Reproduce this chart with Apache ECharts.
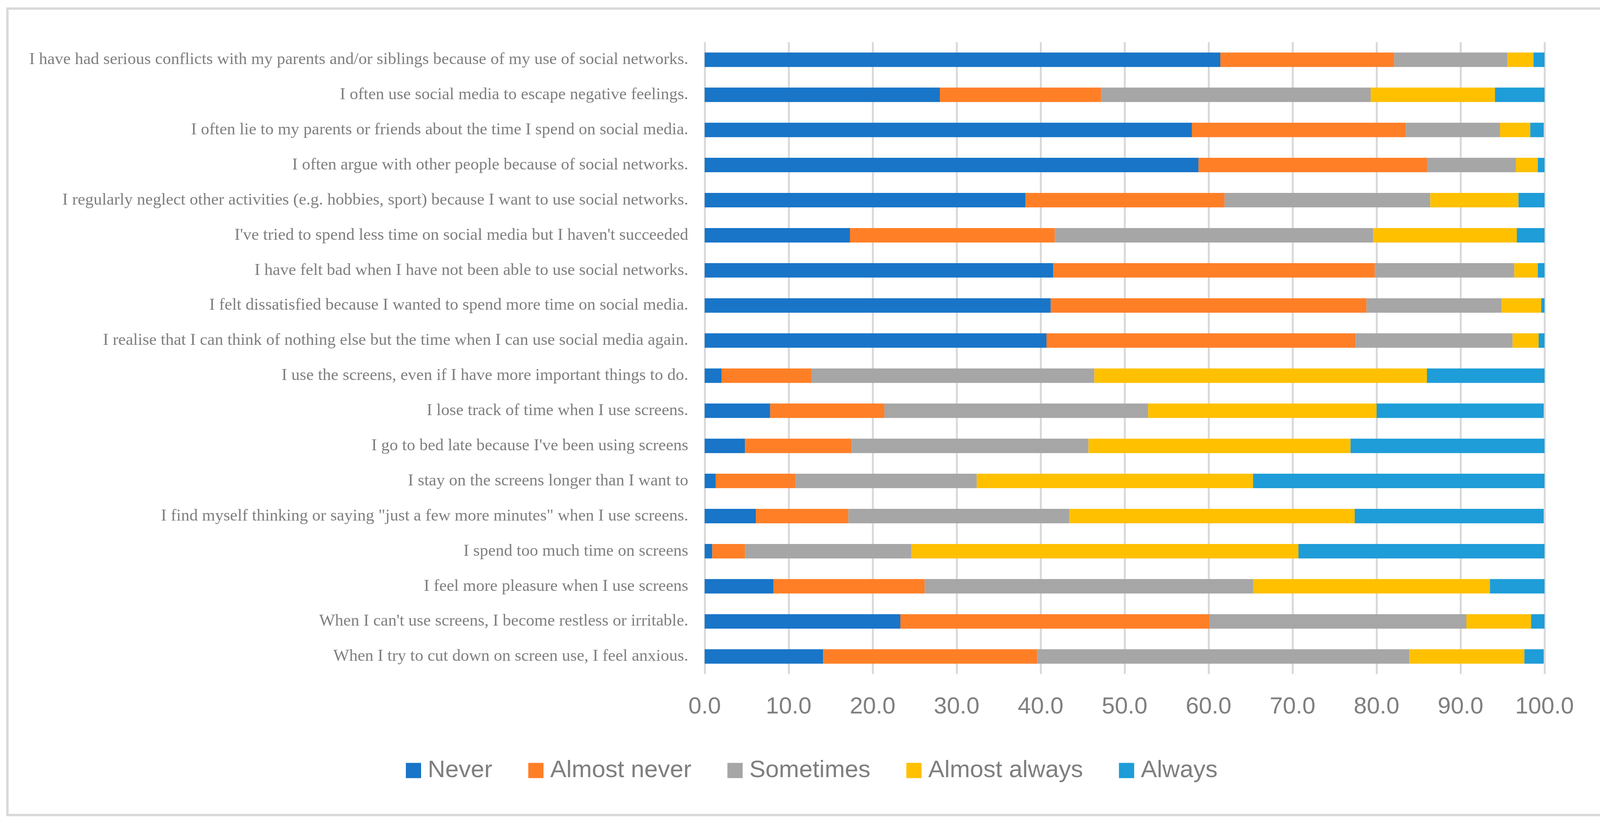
<!DOCTYPE html>
<html>
<head>
<meta charset="utf-8">
<script src="https://cdn.jsdelivr.net/npm/echarts@6/dist/echarts.min.js"></script>
<style>
html,body{margin:0;padding:0;background:#fff;}
#chart{width:4153px;height:2110px;}
</style>
</head>
<body>
<div id="chart"></div>
<script>
var categories = [
  "I have had serious conflicts with my parents and/or siblings because of my use of social networks.",
  "I often use social media to escape negative feelings.",
  "I often lie to my parents or friends about the time I spend on social media.",
  "I often argue with other people because of social networks.",
  "I regularly neglect other activities (e.g. hobbies, sport) because I want to use social networks.",
  "I've tried to spend less time on social media but I haven't succeeded",
  "I have felt bad when I have not been able to use social networks.",
  "I felt dissatisfied because I wanted to spend more time on social media.",
  "I realise that I can think of nothing else but the time when I can use social media again.",
  "I use the screens, even if I have more important things to do.",
  "I lose track of time when I use screens.",
  "I go to bed late because I've been using screens",
  "I stay on the screens longer than I want to",
  "I find myself thinking or saying \"just a few more minutes\" when I use screens.",
  "I spend too much time on screens",
  "I feel more pleasure when I use screens",
  "When I can't use screens, I become restless or irritable.",
  "When I try to cut down on screen use, I feel anxious."
];
var seriesNames = ["Never", "Almost never", "Sometimes", "Almost always", "Always"];
var never        = [61.4, 28.0, 58.0, 58.8, 38.2, 17.3, 41.5, 41.2, 40.7,  2.0,  7.8,  4.8,  1.3,  6.1,  0.9,  8.2, 23.3, 14.1];
var almostNever  = [20.7, 19.2, 25.5, 27.2, 23.7, 24.4, 38.3, 37.6, 36.8, 10.7, 13.6, 12.7,  9.5, 11.0,  3.9, 18.0, 36.8, 25.5];
var sometimes    = [13.5, 32.1, 11.2, 10.6, 24.5, 37.9, 16.6, 16.1, 18.7, 33.7, 31.4, 28.2, 21.6, 26.3, 19.8, 39.1, 30.6, 44.3];
var almostAlways = [ 3.1, 14.8,  3.6,  2.6, 10.5, 17.1,  2.8,  4.7,  3.1, 39.6, 27.2, 31.2, 32.9, 34.0, 46.1, 28.2,  7.7, 13.7];
var always       = [ 1.3,  5.9,  1.6,  0.8,  3.1,  3.3,  0.8,  0.5,  0.7, 14.0, 19.9, 23.1, 34.7, 22.5, 29.3,  6.5,  1.6,  2.3];
var xTicks = [0, 10, 20, 30, 40, 50, 60, 70, 80, 90, 100];

var colors = ["#1875C8", "#FF7F27", "#A6A6A6", "#FFC000", "#1E9DD8"];
var values = [never, almostNever, sometimes, almostAlways, always];

var chart = echarts.init(document.getElementById('chart'), null, {renderer: 'canvas'});
var series = seriesNames.map(function (n, i) {
  return {
    name: n,
    type: 'bar',
    stack: 'total',
    barWidth: 37,
    itemStyle: {color: colors[i]},
    data: values[i]
  };
});

chart.setOption({
  backgroundColor: '#ffffff',
  animation: false,
  color: colors,
  graphic: [{
    type: 'rect',
    shape: {x: 19, y: 22, width: 4101, height: 2065},
    style: {fill: 'none', stroke: '#d9d9d9', lineWidth: 6},
    silent: true
  }],
  grid: {left: 1804, top: 108, width: 2150, height: 1618, containLabel: false},
  xAxis: {
    type: 'value',
    min: xTicks[0],
    max: xTicks[xTicks.length - 1],
    interval: 10,
    axisLine: {show: false},
    axisTick: {show: false},
    splitLine: {show: true, lineStyle: {color: '#d9d9d9', width: 5}},
    axisLabel: {
      margin: 54,
      color: '#7f7f7f',
      fontSize: 60,
      fontFamily: 'Liberation Sans',
      formatter: function (v) { return v.toFixed(1); }
    }
  },
  yAxis: {
    type: 'category',
    inverse: true,
    data: categories,
    axisLine: {show: false},
    axisTick: {show: false},
    splitLine: {show: false},
    axisLabel: {
      margin: 42,
      color: '#7f7f7f',
      fontSize: 43,
      fontFamily: 'Liberation Serif',
      interval: 0
    }
  },
  legend: {
    data: seriesNames,
    left: 1039,
    top: 1942,
    padding: 0,
    icon: 'rect',
    itemWidth: 39,
    itemHeight: 39,
    itemGap: 92,
    textStyle: {
      color: '#7f7f7f',
      fontSize: 62,
      fontFamily: 'Liberation Sans',
      padding: [0, 0, 0, 12]
    }
  },
  series: series
});
</script>
</body>
</html>
